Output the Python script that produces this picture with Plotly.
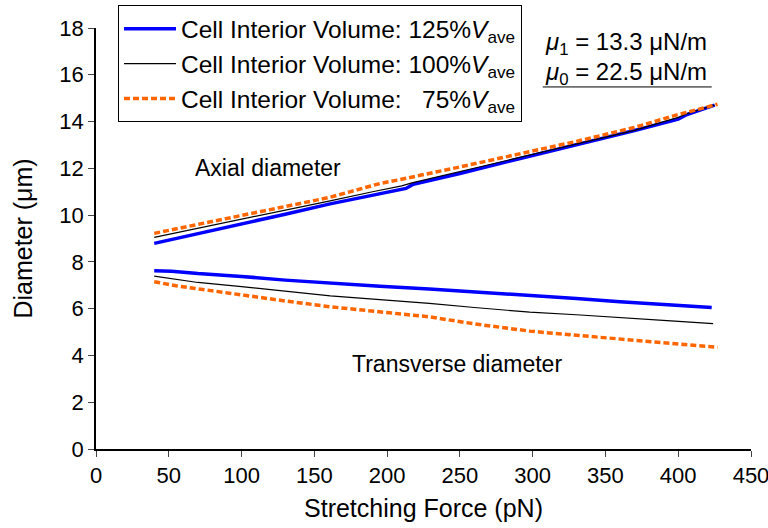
import plotly.graph_objects as go

# Axial diameter (um) vs stretching force (pN)
ax125_x = [40, 70, 100, 130, 160, 190, 213, 218, 250, 290, 330, 370, 400, 406, 425]
ax125_y = [8.79, 9.20, 9.62, 10.04, 10.47, 10.85, 11.14, 11.32, 11.78, 12.40, 13.00, 13.62, 14.10, 14.30, 14.70]
ax100_x = [40, 70, 100, 130, 160, 190, 210, 217, 250, 290, 330, 370, 400, 406, 425]
ax100_y = [9.05, 9.43, 9.82, 10.20, 10.60, 11.00, 11.25, 11.38, 11.86, 12.44, 13.02, 13.62, 14.18, 14.34, 14.70]
ax75_x = [40, 70, 100, 130, 160, 195, 209, 250, 290, 330, 370, 400, 427]
ax75_y = [9.22, 9.60, 9.98, 10.37, 10.75, 11.35, 11.52, 12.06, 12.60, 13.15, 13.75, 14.30, 14.74]

# Transverse diameter (um) vs stretching force (pN)
tr125_x = [40, 52, 70, 100, 130, 161, 195, 229, 260, 298, 330, 360, 395, 410, 423]
tr125_y = [7.62, 7.60, 7.50, 7.38, 7.22, 7.08, 6.96, 6.84, 6.72, 6.58, 6.44, 6.30, 6.18, 6.12, 6.05]
tr100_x = [40, 55, 70, 100, 130, 161, 195, 229, 260, 298, 330, 360, 395, 424]
tr100_y = [7.39, 7.25, 7.12, 6.94, 6.74, 6.55, 6.39, 6.23, 6.05, 5.85, 5.74, 5.63, 5.48, 5.36]
tr75_x = [40, 55, 70, 100, 130, 161, 195, 229, 260, 298, 330, 360, 395, 427]
tr75_y = [7.15, 6.98, 6.85, 6.58, 6.33, 6.08, 5.88, 5.65, 5.35, 5.04, 4.86, 4.69, 4.52, 4.35]

names = [
    "Cell Interior Volume: 125%<i>V</i><sub>ave</sub>",
    "Cell Interior Volume: 100%<i>V</i><sub>ave</sub>",
    "Cell Interior Volume: \u00a0\u00a075%<i>V</i><sub>ave</sub>",
]
x_ticks = [0, 50, 100, 150, 200, 250, 300, 350, 400, 450]
y_ticks = [0, 2, 4, 6, 8, 10, 12, 14, 16, 18]

styles = [
    dict(color="#0000FF", width=3.5),
    dict(color="#000000", width=1.2),
    dict(color="#FF6600", width=3.5, dash="6px,3px"),
]
series = [
    (ax125_x, ax125_y, tr125_x, tr125_y),
    (ax100_x, ax100_y, tr100_x, tr100_y),
    (ax75_x, ax75_y, tr75_x, tr75_y),
]

fig = go.Figure()
for i, (axx, axy, trx, trY) in enumerate(series):
    fig.add_trace(go.Scatter(x=axx, y=axy, mode="lines", line=styles[i],
                             name=names[i], legendgroup=str(i), showlegend=True))
    fig.add_trace(go.Scatter(x=trx, y=trY, mode="lines", line=styles[i],
                             name=names[i], legendgroup=str(i), showlegend=False))

font_family = "Liberation Sans, Arial, sans-serif"
fig.update_layout(
    width=768, height=528,
    margin=dict(l=96, r=17, t=28, b=79, autoexpand=False),
    paper_bgcolor="white", plot_bgcolor="white",
    font=dict(family=font_family, size=22, color="black"),
    showlegend=True,
    legend=dict(x=0.0336, y=1.054, xanchor="left", yanchor="top",
                bordercolor="black", borderwidth=1, bgcolor="white",
                font=dict(size=24.5), tracegroupgap=0, itemwidth=52),
    xaxis=dict(range=[0, 450], tickvals=x_ticks, ticks="outside", ticklen=6,
               showline=True, linecolor="black", linewidth=1.5, showgrid=False,
               zeroline=False, automargin=False, ticklabeloverflow="allow",
               title=dict(text="Stretching Force (pN)", font=dict(size=25), standoff=12),
               tickfont=dict(size=22)),
    yaxis=dict(range=[0, 18], tickvals=y_ticks, ticks="outside", ticklen=6,
               showline=True, linecolor="black", linewidth=1.5, showgrid=False,
               zeroline=False, automargin=False, ticklabeloverflow="allow",
               title=dict(text="Diameter (\u03bcm)", font=dict(size=25), standoff=20),
               tickfont=dict(size=22)),
)

fig.add_annotation(x=118.5, y=12.0, xref="x", yref="y", text="Axial diameter",
                   showarrow=False, font=dict(size=23))
fig.add_annotation(x=248, y=3.63, xref="x", yref="y", text="Transverse diameter",
                   showarrow=False, font=dict(size=23))
fig.add_annotation(x=0.682, y=0.962, xref="paper", yref="paper", xanchor="left", yanchor="middle",
                   text="<i>\u03bc</i><sub>1</sub> = 13.3 \u03bcN/m", showarrow=False, font=dict(size=24))
fig.add_annotation(x=0.682, y=0.891, xref="paper", yref="paper", xanchor="left", yanchor="middle",
                   text="<i>\u03bc</i><sub>0</sub> = 22.5 \u03bcN/m", showarrow=False, font=dict(size=24))
fig.add_shape(type="line", xref="paper", yref="paper", x0=0.682, x1=0.940, y0=0.860, y1=0.860,
              line=dict(color="black", width=1))

fig.write_html("out.html")
